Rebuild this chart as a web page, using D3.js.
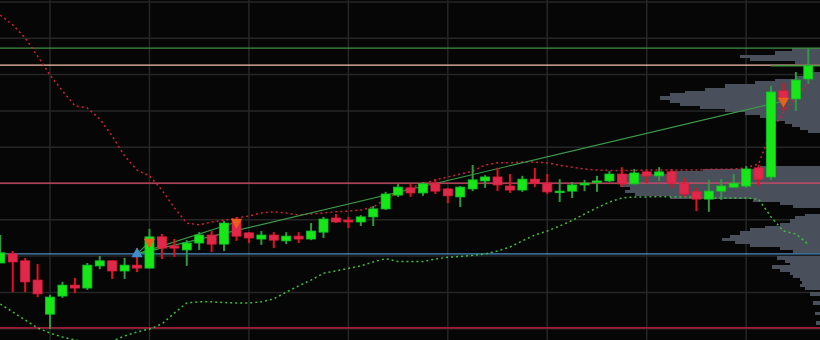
<!DOCTYPE html>
<html>
<head>
<meta charset="utf-8">
<script src="https://cdn.jsdelivr.net/npm/d3@7"></script>
<style>
  body { margin: 0; background: #060606; }
  svg { display: block; }
</style>
</head>
<body>
<div id="chart"></div>
<script>
// candles, oldest first (price units, grid every 10)
const opens  = [18.1,20.6,18.7,13.4,4.0,9.0,12.0,11.2,17.3,18.7,15.9,17.5,16.7,25.3,22.8,21.7,23.6,25.8,23.3,29.7,26.4,24.7,25.8,24.2,25.5,24.7,26.6,30.5,29.9,29.4,30.8,33.0,36.8,38.8,37.4,40.1,38.5,36.3,38.5,40.7,41.8,39.3,38.2,41.2,40.1,37.5,37.9,39.6,40.4,40.7,42.6,39.9,43.2,42.1,43.2,40.1,37.7,35.7,37.9,39.0,39.3,44.3,41.8,65.5,63.3,68.8];
const highs  = [25.8,21.4,19.5,17.8,9.3,12.9,14.0,18.1,20.0,18.8,19.5,22.2,27.5,26.1,24.7,24.4,26.6,26.9,29.7,30.8,26.6,26.9,26.6,26.6,26.6,29.1,30.8,31.6,30.8,31.3,33.8,37.7,39.9,39.9,40.4,41.2,38.8,39.3,45.1,42.3,44.3,42.6,42.1,44.3,42.6,41.2,40.4,41.0,42.1,43.4,44.5,44.0,43.7,44.5,44.0,41.5,38.8,41.0,41.2,42.6,44.8,45.1,66.9,67.7,70.7,77.3];
const lows   = [18.1,10.1,10.1,8.7,-0.1,8.5,9.8,10.7,16.4,13.7,13.7,15.6,16.6,19.2,19.8,17.3,21.7,21.1,21.4,24.2,23.6,23.1,22.2,23.3,23.6,24.4,25.0,29.1,27.7,28.3,28.3,32.7,36.3,36.3,36.6,37.1,34.6,33.5,37.9,38.8,37.9,37.4,37.7,39.0,37.1,34.9,36.0,37.9,37.7,40.4,39.0,39.8,40.1,40.7,38.8,36.3,32.4,32.2,35.5,38.8,38.8,39.3,41.0,60.0,60.0,67.4];
const closes = [20.9,18.4,12.9,9.6,8.7,12.0,11.2,17.5,18.7,15.9,17.5,16.7,25.3,22.2,22.2,23.6,25.8,23.3,29.1,25.5,25.0,25.8,24.4,25.5,24.7,26.9,30.2,29.4,29.4,30.8,33.0,37.1,39.0,37.4,39.9,37.9,36.6,39.0,41.0,41.8,39.6,38.2,41.2,40.1,37.7,37.9,39.6,40.1,40.7,42.6,39.9,42.9,42.1,43.2,40.1,37.1,35.7,37.9,39.3,40.1,44.0,41.2,65.2,63.3,68.5,72.4];

// envelope bands
const upperBand = [86.4,83.7,80.1,75.1,69.9,65.5,61.4,60.8,57.8,53.1,47.6,43.7,42.1,38.2,33.3,29.1,28.6,29.4,29.9,30.5,31.0,31.9,32.2,31.9,31.3,31.6,31.9,32.2,32.4,32.7,33.5,35.7,37.7,38.8,39.9,41.0,41.8,42.6,43.4,45.1,45.7,45.7,45.9,45.9,45.7,45.0,44.5,44.0,43.7,43.6,43.6,43.6,43.7,43.7,43.7,43.7,43.7,43.9,43.9,44.0,44.3,45.4,54.2,59.7,63.8,67.7];
const lowerBand = [6.8,4.6,2.4,0.2,-1.2,-2.3,-3.1,-3.7,-3.9,-3.4,-2.0,-0.9,-0.1,1.3,4.3,7.1,7.4,7.4,7.2,7.1,7.1,7.4,8.2,10.1,11.8,13.4,15.3,15.9,16.6,17.3,18.4,19.3,18.5,18.5,18.5,19.2,19.7,19.9,20.2,20.6,21.4,22.5,24.2,25.8,26.9,28.3,29.8,31.6,33.3,34.9,36.0,36.3,36.3,36.4,36.3,36.3,36.1,36.0,36.0,36.0,36.0,35.7,30.8,26.9,26.1,23.3];

// horizontal levels
const levelValues = [77.3, 72.6, 40.1, 20.6, 0.2];
const levelColors = ["#3f8f43", "#f6c2ac", "#d84a68", "#4a8fc8", "#d41e48"];

// trade signals
const entryIndex = 11, entryPrice = 20.6;
const exitIndexes = [12, 19, 63];
const exitPrices = [23.9, 29.4, 62.7];

// volume profile (price bin centre, volume)
const profilePrices = [76.8,76.0,75.1,74.3,73.5,
  70.2,69.3,68.5,67.7,66.9,66.0,65.2,64.4,63.6,62.7,61.9,61.1,60.3,59.4,58.6,57.8,56.9,56.1,55.3,54.5,
  44.5,43.7,42.9,42.1,41.2,40.4,39.6,38.8,37.9,37.1,36.3,35.5,34.6,33.8,
  31.3,30.5,29.7,28.8,28.0,27.2,26.4,25.5,24.7,23.9,23.1,22.2,21.4,
  19.5,18.7,17.8,17.0,16.2,15.3,14.5,13.7,12.9,12.0,11.2,9.6,7.1,4.3,1.6];
const profileVolumes = [28,45,80,70,25,
  10,25,45,65,95,115,135,150,160,150,140,120,95,75,60,45,35,28,20,12,
  60,117,150,195,200,195,200,190,195,185,150,67,40,27,
  15,25,30,40,55,70,80,90,98,85,70,40,27,
  43,35,30,48,40,30,27,20,18,20,15,10,7,5,4];

const width = 820, height = 340;

const svg = d3.select("#chart").append("svg")
    .attr("width", width)
    .attr("height", height)
    .style("background", "#060606");

const x = d3.scaleLinear().domain([0, 65]).range([0.3, 808.3]);
const y = d3.scaleLinear().domain([0, 90]).range([328.7, 2]);
const vol = d3.scaleLinear().domain([0, 200]).range([0, 200]);

// grid
const gx = d3.range(4, 66, 8);
svg.append("g").selectAll("line").data(gx).join("line")
    .attr("x1", d => x(d)).attr("x2", d => x(d))
    .attr("y1", 0).attr("y2", height)
    .attr("stroke", "#262626").attr("stroke-width", 1.5);
svg.append("g").selectAll("line").data(d3.range(0, 91, 10)).join("line")
    .attr("x1", 0).attr("x2", width)
    .attr("y1", d => y(d)).attr("y2", d => y(d))
    .attr("stroke", "#262626").attr("stroke-width", 1.5);

// volume profile
const binH = y(0) - y(0.83);
svg.append("g").attr("shape-rendering", "crispEdges")
  .selectAll("rect").data(profilePrices).join("rect")
    .attr("x", (d, i) => width - vol(profileVolumes[i]))
    .attr("y", d => y(d) - binH / 2)
    .attr("width", (d, i) => vol(profileVolumes[i]))
    .attr("height", binH + 0.6)
    .attr("fill", "#4a505b");

// levels
svg.append("g").selectAll("line").data(levelValues).join("line")
    .attr("x1", 0).attr("x2", width)
    .attr("y1", d => y(d)).attr("y2", d => y(d))
    .attr("stroke", (d, i) => levelColors[i]).attr("stroke-width", 1.3);

// last price line
svg.append("line")
    .attr("x1", x(62)).attr("x2", width)
    .attr("y1", y(closes[65])).attr("y2", y(closes[65]))
    .attr("stroke", "#2f9a3a").attr("stroke-width", 1.2);

// bands
const idx = d3.range(opens.length);
const bandLine = arr => d3.line().x(i => x(i)).y(i => y(arr[i]));
svg.append("path").datum(idx)
    .attr("d", bandLine(upperBand))
    .attr("fill", "none").attr("stroke", "#d0203c")
    .attr("stroke-width", 1.5).attr("stroke-dasharray", "2,3");
svg.append("path").datum(idx)
    .attr("d", bandLine(lowerBand))
    .attr("fill", "none").attr("stroke", "#3cc03c")
    .attr("stroke-width", 1.5).attr("stroke-dasharray", "2,3");

// trade lines
svg.append("g").selectAll("line").data(exitIndexes).join("line")
    .attr("x1", x(entryIndex)).attr("y1", y(entryPrice))
    .attr("x2", d => x(d)).attr("y2", (d, i) => y(exitPrices[i]))
    .attr("stroke", "#3a9a48").attr("stroke-width", 1.2);

// candles
const up = i => closes[i] >= opens[i];
const candles = svg.append("g").selectAll("g").data(idx).join("g");
candles.append("line")
    .attr("x1", i => x(i)).attr("x2", i => x(i))
    .attr("y1", i => y(highs[i])).attr("y2", i => y(lows[i]))
    .attr("stroke", i => up(i) ? "#2f9a40" : "#e5101c")
    .attr("stroke-width", 2);
candles.append("rect")
    .attr("x", i => x(i) - 4.5)
    .attr("y", i => y(Math.max(opens[i], closes[i])))
    .attr("width", 9)
    .attr("height", i => Math.max(1.5, Math.abs(y(opens[i]) - y(closes[i]))))
    .attr("fill", i => up(i) ? "#17e617" : "#e0284a")
    .attr("stroke", i => up(i) ? "#10c828" : "#e21d3c")
    .attr("stroke-width", 0.8);

// markers
const tri = d3.symbol().type(d3.symbolTriangle).size(55);
svg.append("path")
    .attr("d", tri())
    .attr("transform", `translate(${x(entryIndex)},${y(entryPrice)})`)
    .attr("fill", "#3f8ccc");
svg.append("g").selectAll("path").data(exitIndexes).join("path")
    .attr("d", tri())
    .attr("transform", (d, i) => `translate(${x(d)},${y(exitPrices[i])}) rotate(180)`)
    .attr("fill", "#e8601c");
</script>
</body>
</html>
